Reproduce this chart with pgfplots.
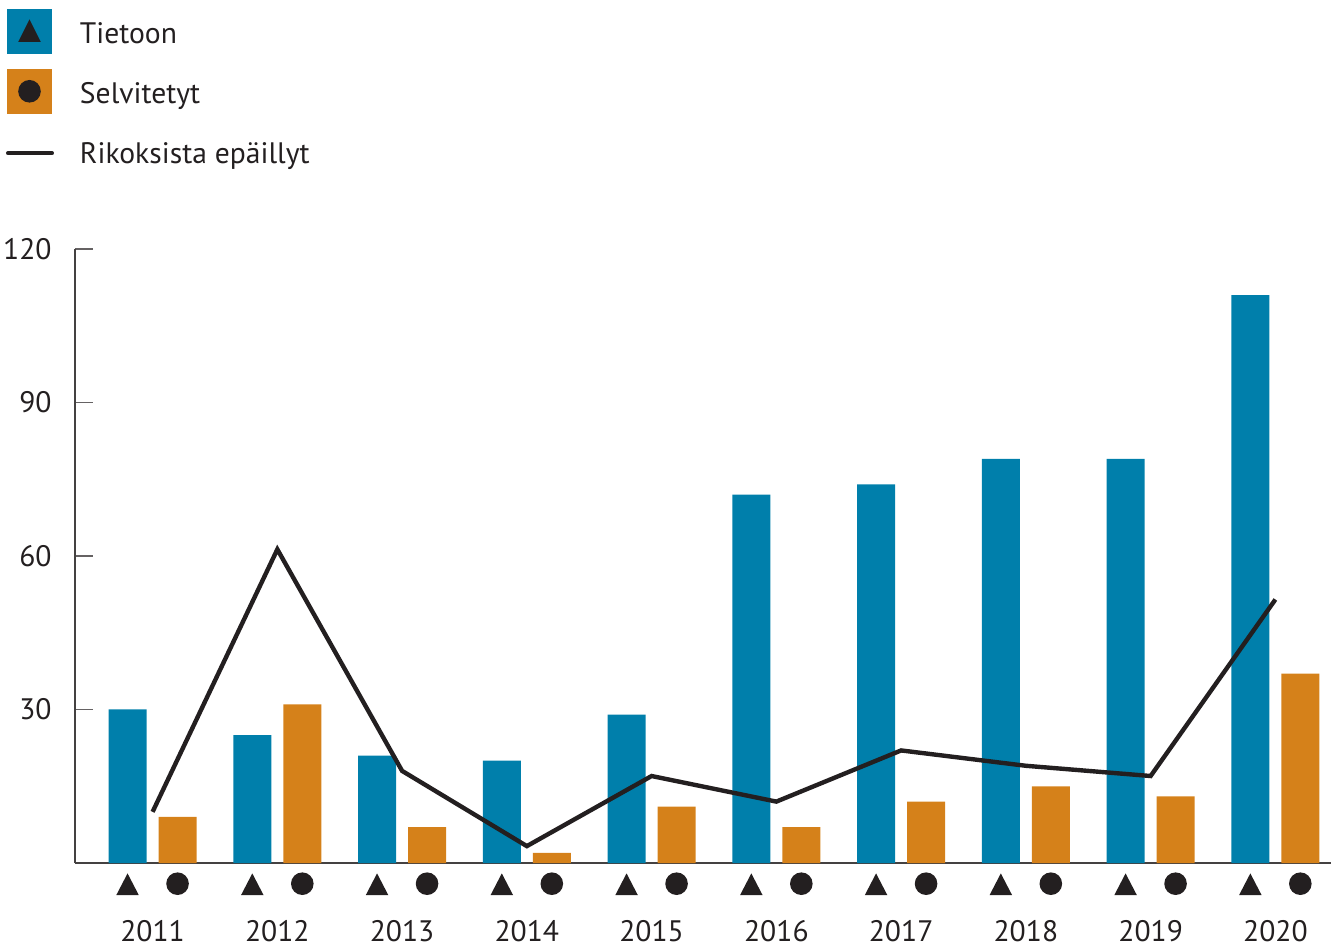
\documentclass[border=0pt]{standalone}
\usepackage{pgfplots}
\pgfplotsset{compat=1.18}
\usepackage{fontspec}
\setmainfont{PT Sans}
\definecolor{tblue}{HTML}{007FAB}
\definecolor{torange}{HTML}{D5811A}
\definecolor{tdark}{HTML}{231F20}
\newcommand{\mtri}{\tikz\fill[tdark] (0,0)--(11.2pt,0)--(5.6pt,10.8pt)--cycle;}
\newcommand{\mdot}{\tikz\fill[tdark] (0,0) circle (5.65pt);}
\newcommand{\yl}[1]{\vbox{\offinterlineskip\hbox to 50pt{\hfil\mtri\hfil\hfil\mdot\hfil}\kern12.5pt\hbox to 50pt{\hfil #1\hfil}}}
\begin{document}
\begin{tikzpicture}
\useasboundingbox (-37.5pt,-42pt) rectangle (631pt,431.5pt);
\begin{axis}[
  at={(0,0)}, anchor=south west,
  scale only axis, width=628pt, height=307pt,
  xmin=-0.622, xmax=9.446, ymin=0, ymax=120,
  axis x line*=bottom, axis y line*=left,
  axis line style={draw=tdark!85, line width=1pt},
  every tick/.style={draw=tdark!70, line width=0.6pt},
  tick align=inside,
  ytick={30,60,90,120},
  major tick length=9pt,
  yticklabel style={anchor=east, inner sep=0pt, xshift=-11.5pt, text=tdark},
  /pgf/number format/assume math mode=true,
  xtick={0,...,9},
  xticklabels={\yl{2011},\yl{2012},\yl{2013},\yl{2014},\yl{2015},\yl{2016},\yl{2017},\yl{2018},\yl{2019},\yl{2020}},
  x tick style={draw=none},
  xticklabel style={anchor=north, inner sep=0pt, yshift=-4.5pt, text=tdark},
  extra x ticks={0.5,1.5,2.5,3.5,4.5,5.5,6.5,7.5,8.5,9.446},
  extra x tick labels={},
  extra x tick style={major tick length=10pt, tick style={draw=tdark!70, line width=0.6pt}},
  font=\fontsize{14.8pt}{17pt}\selectfont,
  legend style={at={(0,1)}, anchor=north west, xshift=-34.5pt, yshift=120.85pt,
    draw=none, fill=none, inner sep=0pt, outer sep=0pt, row sep=0pt, column sep=13pt,
    cells={anchor=base west}, nodes={inner sep=0pt, text=tdark}, font=\fontsize{14.8pt}{17pt}\selectfont},
]
\addplot[ybar, bar width=19pt, bar shift=-12.5pt, fill=tblue, draw=none,
  legend image code/.code={
    \path[draw=none,fill=none] (0,-12pt) rectangle (22.5pt,18pt);
    \fill[tblue] (0,-5.25pt) rectangle (22.5pt,17.25pt);
    \fill[tdark] (5.6pt,0.7pt)--(16.9pt,0.7pt)--(11.25pt,11.9pt)--cycle;}]
  coordinates {(0,30) (1,25) (2,21) (3,20) (4,29) (5,72) (6,74) (7,79) (8,79) (9,111)};
\addlegendentry{Tietoon}
\addplot[ybar, bar width=19pt, bar shift=12.5pt, fill=torange, draw=none,
  legend image code/.code={
    \path[draw=none,fill=none] (0,-12pt) rectangle (22.5pt,18pt);
    \fill[torange] (0,-5.25pt) rectangle (22.5pt,17.25pt);
    \fill[tdark] (11.25pt,6pt) circle (5.65pt);}]
  coordinates {(0,9) (1,31) (2,7) (3,2) (4,11) (5,7) (6,12) (7,15) (8,13) (9,37)};
\addlegendentry{Selvitetyt}
\addplot[sharp plot, draw=tdark, line width=2.2pt, line join=miter, mark=none,
  legend image code/.code={
    \path[draw=none,fill=none] (0,-12pt) rectangle (22.5pt,18pt);
    \draw[tdark, line width=2pt, line cap=round] (0.5pt,5pt)--(22.5pt,5pt);}]
  coordinates {(0,10) (1,61.3) (2,18) (3,3.3) (4,17) (5,12) (6,22) (7,19) (8,17) (9,51.5)};
\addlegendentry{Rikoksista epäillyt}
\end{axis}
\end{tikzpicture}
\end{document}
